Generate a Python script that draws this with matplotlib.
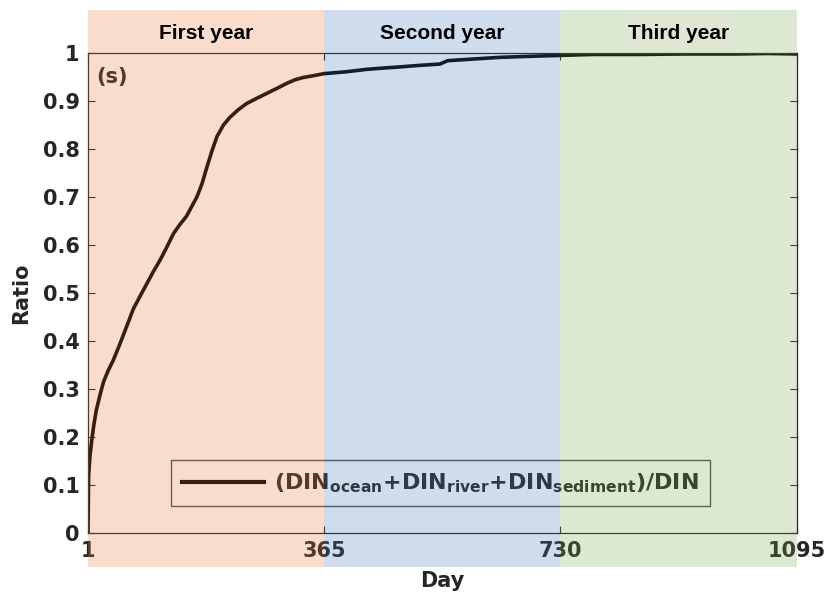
import matplotlib
matplotlib.use('Agg')
import matplotlib.pyplot as plt
from matplotlib.patches import Rectangle
from matplotlib import transforms

# cumulative share of tagged DIN over the three model years
days = [1, 2, 4, 7, 10, 14, 20, 25, 32, 40, 50, 60, 71, 82, 92, 102, 112, 122,
        133, 143, 153, 161, 169, 177, 184, 192, 200, 210, 220, 233, 246, 262,
        277, 292, 308, 320, 333, 346, 365, 400, 431, 460, 482, 510, 544, 556,
        590, 637, 680, 729, 780, 850, 920, 1000, 1050, 1095]
ratio = [0.0, 0.12, 0.16, 0.195, 0.225, 0.257, 0.29, 0.315, 0.338, 0.36, 0.393,
         0.428, 0.467, 0.495, 0.52, 0.545, 0.568, 0.594, 0.624, 0.643, 0.66,
         0.68, 0.70, 0.728, 0.76, 0.795, 0.826, 0.85, 0.866, 0.882, 0.895,
         0.906, 0.916, 0.926, 0.937, 0.944, 0.949, 0.952, 0.957, 0.961, 0.966,
         0.969, 0.971, 0.974, 0.977, 0.984, 0.987, 0.991, 0.993, 0.995, 0.997,
         0.997, 0.998, 0.998, 0.999, 0.998]

year_names = ['First year', 'Second year', 'Third year']
year_edges = [1, 365, 730, 1095]
year_colors = ['#e87430', '#4074bc', '#74a44c']

xticks = [1, 365, 730, 1095]
yticks = [0, 0.1, 0.2, 0.3, 0.4, 0.5, 0.6, 0.7, 0.8, 0.9, 1]
ytick_labels = ['0', '0.1', '0.2', '0.3', '0.4', '0.5', '0.6', '0.7', '0.8', '0.9', '1']

txt = '#262626'
fs = 15
plt.rcParams['font.family'] = ['DejaVu Sans']
plt.rcParams['font.weight'] = 'bold'
plt.rcParams['mathtext.fontset'] = 'dejavusans'

fig = plt.figure(figsize=(8.27, 5.95), dpi=100)
ax = fig.add_axes([0.1064, 0.1042, 0.8573, 0.8067])

ax.plot(days, ratio, color='black', lw=2.6,
        label=r'(DIN$_{\bf ocean}$+DIN$_{\bf river}$+DIN$_{\bf sediment}$)/DIN')

ax.set_xlim(1, 1095)
ax.set_ylim(0, 1)
ax.set_xticks(xticks)
ax.set_xticklabels([str(t) for t in xticks])
ax.set_yticks(yticks)
ax.set_yticklabels(ytick_labels)
ax.tick_params(direction='in', length=5, width=0.8, top=True, right=True,
               labelsize=fs, colors=txt, pad=6)
for lab in ax.get_xticklabels() + ax.get_yticklabels():
    lab.set_fontweight('bold')
for s in ax.spines.values():
    s.set_color(txt)
    s.set_linewidth(0.9)

ax.set_xlabel('Day', fontsize=fs, fontweight='bold', color=txt, labelpad=7)
ax.set_ylabel('Ratio', fontsize=fs, fontweight='bold', color=txt, labelpad=8)
ax.text(0.012, 0.95, '(s)', transform=ax.transAxes, fontsize=fs,
        fontweight='bold', color=txt, va='center')

leg = ax.legend(loc='lower left', bbox_to_anchor=(0.117, 0.056), borderaxespad=0,
                fontsize=16, handlelength=3.7, handletextpad=0.45,
                fancybox=False, frameon=True, edgecolor=txt, facecolor='none',
                borderpad=0.5)
leg.get_frame().set_linewidth(1.0)
leg.get_lines()[0].set_linewidth(3.0)
for t in leg.get_texts():
    t.set_fontweight('bold')
    t.set_color(txt)

# translucent year bands laid over the whole plot, above and below the axes
trans = transforms.blended_transform_factory(ax.transData, fig.transFigure)
for i, name in enumerate(year_names):
    x0, x1 = year_edges[i], year_edges[i + 1]
    fig.add_artist(Rectangle((x0, 0.047), x1 - x0, 0.936, transform=trans,
                             facecolor=year_colors[i], alpha=0.25,
                             edgecolor='none', zorder=5))
    fig.text((x0 + x1) / 2, 0.944, name, transform=trans, ha='center',
             va='center', fontsize=fs, fontweight='bold', color='black',
             family='Liberation Sans', zorder=6)

fig.savefig('out.png', dpi=100)
